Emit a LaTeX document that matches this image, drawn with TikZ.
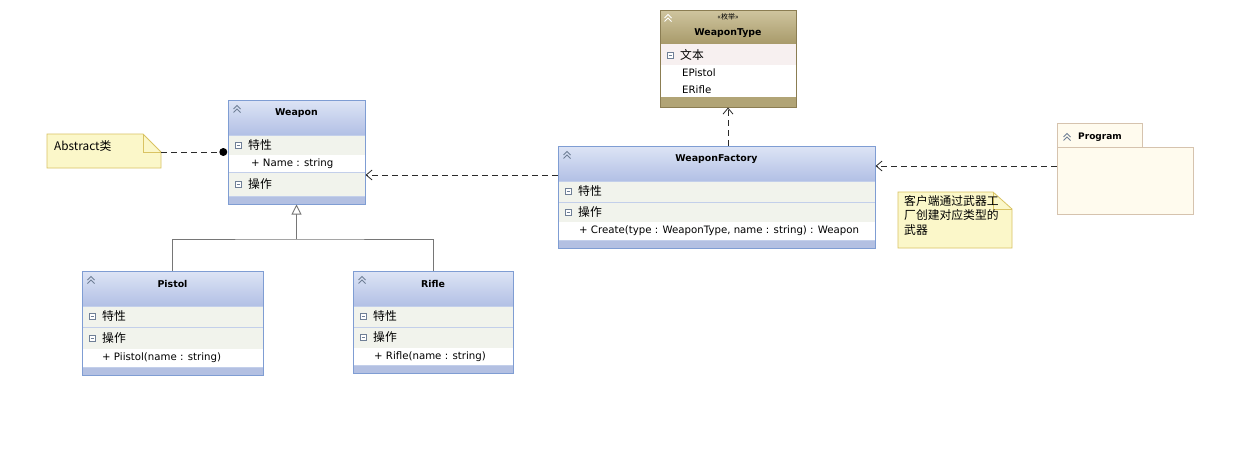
\documentclass[tikz,border=0pt]{standalone}
\usepackage{fontspec}
\setmainfont{DejaVu Sans}
\newfontfamily\cjk{Noto Sans CJK SC}
\usetikzlibrary{arrows.meta,fit,calc}

\definecolor{clsborder}{HTML}{7F9DD3}
\definecolor{hdtop}{HTML}{DDE4F5}
\definecolor{hdbot}{HTML}{B2C0E5}
\definecolor{rowbg}{HTML}{F1F3EC}
\definecolor{bandc}{HTML}{B3C0E2}
\definecolor{sepc}{HTML}{C3CFEA}
\definecolor{enborder}{HTML}{8B7D52}
\definecolor{entop}{HTML}{CFC59F}
\definecolor{enbot}{HTML}{A89A6A}
\definecolor{enrow}{HTML}{F7F0F0}
\definecolor{enband}{HTML}{B1A476}
\definecolor{notefill}{HTML}{FBF7C9}
\definecolor{noteborder}{HTML}{D9C363}
\definecolor{pkgfill}{HTML}{FFFBEE}
\definecolor{pkgborder}{HTML}{D6C3AE}
\definecolor{linec}{HTML}{2A2A2A}
\definecolor{genc}{HTML}{767676}
\definecolor{iconc}{HTML}{6F7F96}

\tikzset{
  titletext/.style={font=\bfseries\fontsize{9.4}{11}\selectfont, inner sep=0pt},
  sectext/.style={font=\cjk\fontsize{11.8}{13}\selectfont, anchor=west, inner sep=0pt},
  memtext/.style={font=\fontsize{10.2}{12}\selectfont, anchor=west, inner sep=0pt},
  notetext/.style={font=\cjk\fontsize{11.8}{14.6}\selectfont, inner sep=0pt, align=left},
  dep/.style={draw=linec, line width=0.8pt, dash pattern=on 6pt off 4pt,
    -{Straight Barb[length=6pt,width=10pt,line width=0.8pt]}},
  anchorline/.style={draw=linec, line width=0.8pt, dash pattern=on 6pt off 4pt},
  gen/.style={draw=genc, line width=0.9pt},
  boxframe/.style={inner sep=0pt, line width=1pt},
}

\newcommand\chev[3]{%
  \draw[#3, line width=0.9pt] ({#1-3.5},{#2+1}) -- (#1,{#2-2.5}) -- ({#1+3.5},{#2+1})
    ({#1-3.5},{#2+4.5}) -- (#1,{#2+1}) -- ({#1+3.5},{#2+4.5});}

\newcommand\umlclass[7]{%
  \fill[white] (#2,#3) rectangle (#4,#5);
  \shade[top color=hdtop,bottom color=hdbot] (#2,#3) rectangle (#4,#6);
  \fill[bandc] (#2,{#5-8}) rectangle (#4,#5);
  \draw[sepc] (#2,{#5-8}) -- (#4,{#5-8});
  \chev{#2+9}{#3+8}{iconc}
  \node[titletext] (#1-title) at ({(#2+#4)/2},{#3+13}) {#7};
  \node[fit={(#2,#3)(#4,#5)},boxframe,draw=clsborder] (#1) {};
}

\newcommand\secrow[6]{%
  \fill[rowbg] (#2,#3) rectangle (#4,#5);
  \draw[sepc] (#2,#3) -- (#4,#3);
  \draw[iconc, fill=white, line width=0.5pt] ({#2+7},{(#3+#5)/2-3}) rectangle ({#2+13},{(#3+#5)/2+3});
  \draw[iconc, line width=0.6pt] ({#2+8.5},{(#3+#5)/2}) -- ({#2+11.5},{(#3+#5)/2});
  \node[sectext] (#1) at ({#2+20},{(#3+#5)/2}) {#6};
}

\begin{document}
\begin{tikzpicture}[x=1pt,y=-1pt]
\useasboundingbox[fill=white] (0,0) rectangle (1236,458);

% ---------- WeaponType (enumeration)
\fill[white] (660,10) rectangle (796,107);
\shade[top color=entop,bottom color=enbot] (660,10) rectangle (796,44);
\fill[enrow] (660,44) rectangle (796,65);
\fill[enband] (660,97) rectangle (796,107);
\chev{668}{17}{white}
\node[font=\cjk\fontsize{7}{8}\selectfont, inner sep=0pt] (wt-st) at (728,17) {«枚举»};
\node[titletext] (wt-title) at (728,33) {WeaponType};
\draw[iconc, fill=white, line width=0.5pt] (667,52) rectangle (673,58);
\draw[iconc, line width=0.6pt] (668.5,55) -- (671.5,55);
\node[sectext] (wt-sec) at (680,55) {文本};
\node[memtext] (wt-m1) at (682,73) {EPistol};
\node[memtext] (wt-m2) at (682,90) {ERifle};
\node[fit={(660,10)(796,107)},boxframe,draw=enborder] (wt) {};

% ---------- Weapon
\umlclass{wpn}{228}{100}{365}{204}{135}{Weapon}
\secrow{wpn-s1}{228}{135}{365}{155}{特性}
\node[memtext] (wpn-m1) at (251,164) {+ Name : string};
\secrow{wpn-s2}{228}{172}{365}{196}{操作}
\node[fit={(228,100)(365,204)},boxframe,draw=clsborder] (wpnb) {};

% ---------- WeaponFactory
\umlclass{wf}{558}{146}{875}{248}{181}{WeaponFactory}
\secrow{wf-s1}{558}{181}{875}{202}{特性}
\secrow{wf-s2}{558}{202}{875}{222}{操作}
\node[memtext] (wf-m1) at (579,231) {+ Create(type : WeaponType, name : string) : Weapon};
\node[fit={(558,146)(875,248)},boxframe,draw=clsborder] (wfb) {};

% ---------- Pistol
\umlclass{pis}{82}{271}{263}{375}{306}{Pistol}
\secrow{pis-s1}{82}{306}{263}{327}{特性}
\secrow{pis-s2}{82}{327}{263}{349}{操作}
\node[memtext] (pis-m1) at (102,358) {+ Piistol(name : string)};
\node[fit={(82,271)(263,375)},boxframe,draw=clsborder] (pisb) {};

% ---------- Rifle
\umlclass{rif}{353}{271}{513}{373}{306}{Rifle}
\secrow{rif-s1}{353}{306}{513}{327}{特性}
\secrow{rif-s2}{353}{327}{513}{348}{操作}
\node[memtext] (rif-m1) at (374,357) {+ Rifle(name : string)};
\node[fit={(353,271)(513,373)},boxframe,draw=clsborder] (rifb) {};

% ---------- Program package
\filldraw[fill=pkgfill, draw=pkgborder, line width=0.8pt] (1057,123) rectangle (1142,147);
\filldraw[fill=pkgfill, draw=pkgborder, line width=0.8pt] (1057,147) rectangle (1193,214);
\node[fit={(1057,123)(1142,147)},inner sep=0pt] (progtab) {};
\node[fit={(1057,147)(1193,214)},inner sep=0pt] (prog) {};
\chev{1067}{136}{iconc}
\node[font=\bfseries\fontsize{9}{11}\selectfont, anchor=west, inner sep=0pt] (prog-title) at (1078,137) {Program};

% ---------- Notes
\filldraw[fill=notefill, draw=noteborder, line width=0.8pt]
  (47,134) -- (143,134) -- (161,152) -- (161,168) -- (47,168) -- cycle;
\draw[noteborder, line width=0.6pt] (143,134) -- (143,152) -- (161,152);
\node[fit={(47,134)(161,168)},inner sep=0pt] (note1) {};
\node[notetext, anchor=west] (note1-t) at (54,146) {Abstract类};

\filldraw[fill=notefill, draw=noteborder, line width=0.8pt]
  (898,192) -- (993,192) -- (1012,209) -- (1012,248) -- (898,248) -- cycle;
\draw[noteborder, line width=0.6pt] (993,192) -- (993,209) -- (1012,209);
\node[fit={(898,192)(1012,248)},inner sep=0pt] (note2) {};
\node[notetext, anchor=north west] (note2-t) at (904,195) {客户端通过武器工\\厂创建对应类型的\\武器};

% ---------- Connectors
\node[circle, fill=black, inner sep=0pt, minimum size=8pt, anchor=east] (dot) at (wpnb.west) {};
\draw[anchorline] (note1.east |- dot) -- (dot.west);

\draw[dep] (wfb.west |- 0,175) -- (wpnb.east |- 0,175);
\draw[dep] (wfb.north -| wt.south) -- (wt.south);
\draw[dep] (prog.west |- 0,166) -- (wfb.east |- 0,166);

\coordinate (j) at (wpnb.south |- 0,239);
\draw[gen] (pisb.north) |- (j) -| (rifb.north);
\draw[gen, -{Triangle[open, length=10pt, width=10pt, fill=white]}] (j) -- (wpnb.south);
\end{tikzpicture}
\end{document}
